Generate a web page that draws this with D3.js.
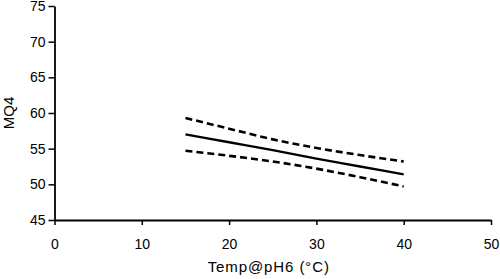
<!DOCTYPE html>
<html>
<head>
<meta charset="utf-8">
<script src="https://cdn.jsdelivr.net/npm/d3@7"></script>
<style>
  body { margin: 0; background: #fff; }
  text { font-family: "Liberation Sans", Arial, Helvetica, sans-serif; fill: #000; }
</style>
</head>
<body>
<svg id="chart"></svg>
<script>
// Data
const temps = [15, 20, 25, 30, 35, 40];
const fitValues = [57.0, 55.9, 54.8, 53.6, 52.5, 51.4];
const upperValues = [59.3, 57.8, 56.3, 55.1, 54.1, 53.2];
const lowerValues = [54.7, 54.0, 53.2, 52.2, 51.0, 49.7];
const xTicks = [0, 10, 20, 30, 40, 50];
const yTicks = [45, 50, 55, 60, 65, 70, 75];

const W = 500, H = 279;
const margin = { top: 6, right: 9, bottom: 59, left: 54.5 };
const width = W - margin.left - margin.right;
const height = H - margin.top - margin.bottom;

const svg = d3.select("#chart").attr("width", W).attr("height", H);
const g = svg.append("g").attr("transform", `translate(${margin.left},${margin.top})`);

const x = d3.scaleLinear().domain([0, 50]).range([0, width]);
const y = d3.scaleLinear().domain([45, 75]).range([height, 0]);

// Axes
const gx = g.append("g")
  .attr("transform", `translate(0,${height})`)
  .call(d3.axisBottom(x).tickValues(xTicks).tickSize(5).tickPadding(14).tickSizeOuter(0));
const gy = g.append("g")
  .call(d3.axisLeft(y).tickValues(yTicks).tickSize(6).tickPadding(3).tickSizeOuter(0));

[gx, gy].forEach((a) => {
  a.select(".domain").attr("stroke", "#000").attr("stroke-width", 1.8);
  a.selectAll(".tick line").attr("stroke", "#000").attr("stroke-width", 1.5);
  a.selectAll(".tick text").style("font-size", "14px").attr("fill", "#000");
});

// Lines
const line = d3.line()
  .x((d) => x(d[0]))
  .y((d) => y(d[1]))
  .curve(d3.curveMonotoneX);

const series = [
  { values: upperValues, dash: "7,4" },
  { values: fitValues, dash: null },
  { values: lowerValues, dash: "7,4" },
];

series.forEach((s) => {
  g.append("path")
    .datum(temps.map((t, i) => [t, s.values[i]]))
    .attr("fill", "none")
    .attr("stroke", "#000")
    .attr("stroke-width", s.dash ? 2.6 : 2.4)
    .attr("stroke-dasharray", s.dash)
    .attr("d", line);
});

// Axis titles
g.append("text")
  .attr("x", width / 2 - 4)
  .attr("y", height + 52)
  .attr("text-anchor", "middle")
  .style("font-size", "15px")
  .style("letter-spacing", "0.9px")
  .text("Temp@pH6 (°C)");

g.append("text")
  .attr("transform", "rotate(-90)")
  .attr("x", -height / 2)
  .attr("y", -margin.left + 14)
  .attr("text-anchor", "middle")
  .style("font-size", "15px")
  .text("MQ4");
</script>
</body>
</html>
